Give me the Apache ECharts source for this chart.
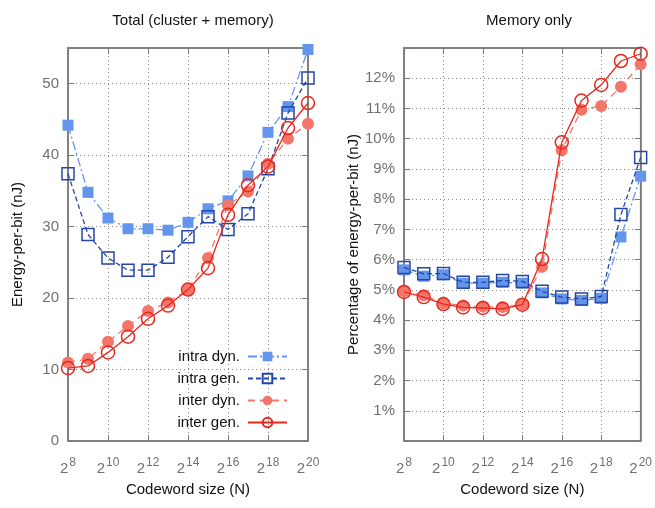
<!DOCTYPE html>
<html>
<head>
<meta charset="utf-8">
<script src="https://cdn.jsdelivr.net/npm/echarts@6/dist/echarts.min.js"></script>
<style>
html,body{margin:0;padding:0;background:#fff;}
#chart{width:655px;height:508px;}
</style>
</head>
<body>
<div id="chart"></div>
<script>
// ---- data ----
var exps = [8, 9, 10, 11, 12, 13, 14, 15, 16, 17, 18, 19, 20];
var xTickExps = [8, 10, 12, 14, 16, 18, 20];
var seriesNames = ['intra dyn.', 'intra gen.', 'inter dyn.', 'inter gen.'];

var totalIntraDyn = [44.2, 34.8, 31.2, 29.7, 29.7, 29.5, 30.6, 32.5, 33.6, 37.1, 43.2, 46.8, 54.8];
var totalIntraGen = [37.4, 28.9, 25.6, 23.9, 23.9, 25.7, 28.6, 31.4, 29.6, 31.8, 38.1, 45.9, 50.8];
var totalInterDyn = [11.0, 11.5, 13.9, 16.1, 18.2, 19.4, 21.2, 25.6, 33.0, 34.9, 38.8, 42.3, 44.4];
var totalInterGen = [10.2, 10.5, 12.4, 14.6, 17.1, 18.95, 21.2, 24.2, 31.65, 35.8, 38.4, 43.8, 47.3];

var memIntraDyn = [5.66, 5.45, 5.5, 5.22, 5.22, 5.25, 5.22, 4.9, 4.7, 4.65, 4.72, 6.75, 8.76];
var memIntraGen = [5.74, 5.53, 5.54, 5.25, 5.25, 5.31, 5.28, 4.95, 4.76, 4.70, 4.78, 7.49, 9.38];
var memInterDyn = [4.95, 4.82, 4.56, 4.48, 4.45, 4.43, 4.52, 5.76, 9.62, 10.96, 11.08, 11.72, 12.46];
var memInterGen = [4.93, 4.76, 4.53, 4.42, 4.40, 4.37, 4.51, 6.02, 9.88, 11.26, 11.78, 12.57, 12.81];

// ---- styling ----
var FONT = "'Liberation Sans', Arial, Helvetica, sans-serif";
var GRAY = '#707070';
var FRAME = '#7a7a7a';
var styles = [
  {color: '#6495ed', dash: [9, 3, 2, 3], symbol: 'rect', size: 11, filled: true},
  {color: '#2347a6', dash: [5, 3], symbol: 'rect', size: 12, filled: false},
  {color: '#f4756a', dash: [7, 5], symbol: 'circle', size: 12, filled: true},
  {color: '#e8281e', dash: 'solid', symbol: 'circle', size: 13, filled: false}
];

function pairs(vals) {
  return exps.map(function (e, i) { return [e, vals[i]]; });
}

function makeSeries(idx, vals, gi) {
  var s = styles[idx];
  return {
    name: seriesNames[idx],
    type: 'line',
    xAxisIndex: gi * 2,
    yAxisIndex: gi * 2,
    data: pairs(vals),
    symbol: s.symbol,
    symbolSize: s.size,
    showSymbol: true,
    animation: false,
    lineStyle: {color: s.color, width: 1.3, type: s.dash},
    itemStyle: s.filled
      ? {color: s.color, borderWidth: 0}
      : {color: 'rgba(255,255,255,0)', borderColor: s.color, borderWidth: 1.5},
    emphasis: {disabled: true},
    z: 2 + idx
  };
}

function xAxes(gi) {
  var base = {
    type: 'value', gridIndex: gi, min: 8, max: 20, interval: 2,
    axisLine: {show: true, onZero: false, lineStyle: {color: FRAME, width: 1.5}},
    axisTick: {show: true, inside: true, length: 6, lineStyle: {color: FRAME, width: 1}}
  };
  var bottom = Object.assign({}, base, {
    position: 'bottom',
    name: 'Codeword size (N)',
    nameLocation: 'middle',
    nameGap: 41,
    nameTextStyle: {fontFamily: FONT, fontSize: 15, color: '#111'},
    axisLabel: {
      margin: 16,
      formatter: function (v) {
        return xTickExps.indexOf(v) >= 0 ? '{b|2}{s|' + v + '}' : '';
      },
      rich: {
        b: {fontFamily: FONT, fontSize: 15, color: GRAY, lineHeight: 19, verticalAlign: 'bottom'},
        s: {fontFamily: FONT, fontSize: 12, color: GRAY, lineHeight: 12, verticalAlign: 'top', padding: [0, 0, 0, 1]}
      }
    },
    splitLine: {show: true, lineStyle: {color: '#8a8a8a', type: [1, 3], width: 1}}
  });
  var top = Object.assign({}, base, {
    position: 'top', axisLabel: {show: false}, splitLine: {show: false}
  });
  return [bottom, top];
}

function yAxes(gi, opts) {
  var base = {
    type: 'value', gridIndex: gi, min: 0, max: opts.max, interval: opts.interval,
    axisLine: {show: true, onZero: false, lineStyle: {color: FRAME, width: 1.5}},
    axisTick: {show: true, inside: true, length: 6, lineStyle: {color: FRAME, width: 1}}
  };
  var left = Object.assign({}, base, {
    position: 'left',
    name: opts.name,
    nameLocation: 'middle',
    nameGap: 43,
    nameTextStyle: {fontFamily: FONT, fontSize: 15, color: '#111'},
    axisLabel: {margin: 9, fontFamily: FONT, fontSize: 15, color: GRAY, formatter: opts.fmt},
    splitLine: {show: true, lineStyle: {color: '#8a8a8a', type: [1, 3], width: 1}}
  });
  var right = Object.assign({}, base, {
    position: 'right', axisLabel: {show: false}, splitLine: {show: false}
  });
  return [left, right];
}

var series = [];
[totalIntraDyn, totalIntraGen, totalInterDyn, totalInterGen].forEach(function (v, i) {
  series.push(makeSeries(i, v, 0));
});
[memIntraDyn, memIntraGen, memInterDyn, memInterGen].forEach(function (v, i) {
  series.push(makeSeries(i, v, 1));
});

var option = {
  backgroundColor: '#fff',
  animation: false,
  title: [
    {text: 'Total (cluster + memory)', left: 188, top: 8, textAlign: 'center',
     textStyle: {fontFamily: FONT, fontSize: 15, fontWeight: 'normal', color: '#111'}},
    {text: 'Memory only', left: 524, top: 8, textAlign: 'center',
     textStyle: {fontFamily: FONT, fontSize: 15, fontWeight: 'normal', color: '#111'}}
  ],
  grid: [
    {left: 68, top: 48, right: 347, bottom: 67, show: true, borderColor: FRAME, borderWidth: 1.5, backgroundColor: 'transparent'},
    {left: 404, top: 48, right: 11, bottom: 67, show: true, borderColor: FRAME, borderWidth: 1.5, backgroundColor: 'transparent'}
  ],
  xAxis: xAxes(0).concat(xAxes(1)),
  yAxis: yAxes(0, {max: 55, interval: 10, name: 'Energy-per-bit (nJ)',
                   fmt: function (v) { return v > 50 ? '' : String(v); }})
    .concat(yAxes(1, {max: 13, interval: 1, name: 'Percentage of energy-per-bit (nJ)',
                      fmt: function (v) { return (v < 1 || v > 12) ? '' : v + '%'; }})),
  legend: {
    data: seriesNames,
    orient: 'vertical',
    align: 'right',
    right: 367,
    top: 349,
    padding: 0,
    itemWidth: 39,
    itemHeight: 12,
    itemGap: 7,
    selectedMode: false,
    textStyle: {fontFamily: FONT, fontSize: 15, color: '#111', padding: [0, 3, 0, 0]}
  },
  series: series
};

var chart = echarts.init(document.getElementById('chart'), null, {renderer: 'canvas'});
chart.setOption(option);
</script>
</body>
</html>
